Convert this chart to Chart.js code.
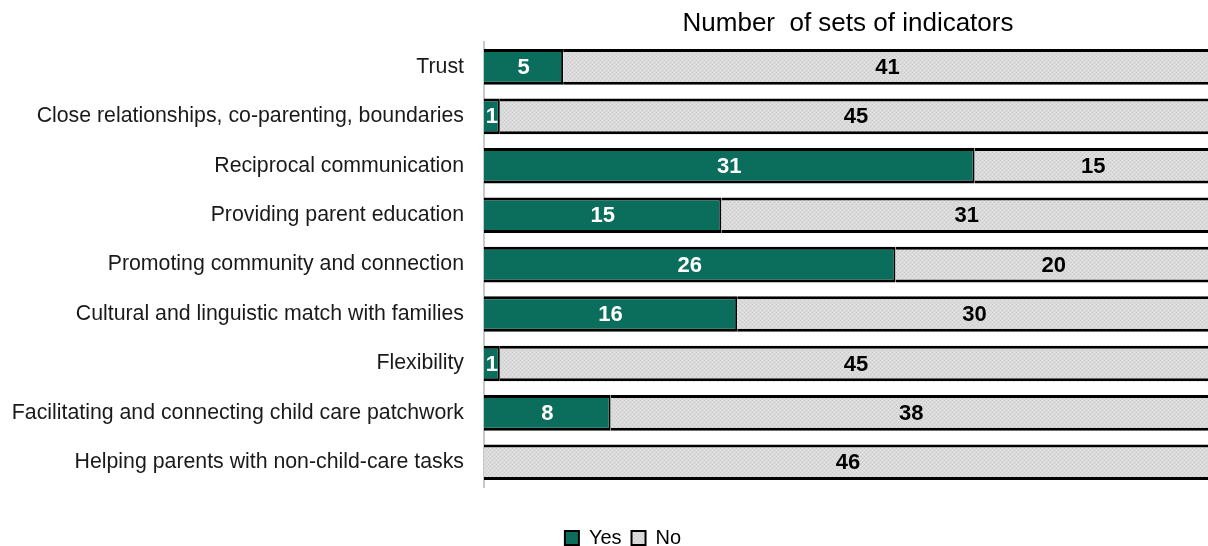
<!DOCTYPE html>
<html lang="en">
<head>
    <meta charset="UTF-8">
    <title>Number of sets of indicators</title>
    <script src="https://cdn.jsdelivr.net/npm/chart.js"></script>
    <style>
        body {
            margin: 0;
            overflow: hidden;
            background: #fff;
        }
    </style>
</head>
<body>
    <!-- canvas a bit bigger than the window; the right/bottom overflow is cut off like in the original -->
    <canvas id="chart" width="1246" height="558"></canvas>
    <script>
        // data
        const categories = [
            'Trust',
            'Close relationships, co-parenting, boundaries',
            'Reciprocal communication',
            'Providing parent education',
            'Promoting community and connection',
            'Cultural and linguistic match with families',
            'Flexibility',
            'Facilitating and connecting child care patchwork',
            'Helping parents with non-child-care tasks'
        ];
        const yesValues = [5, 1, 31, 15, 26, 16, 1, 8, 0];
        const noValues = [41, 45, 15, 31, 20, 30, 45, 38, 46];
        const seriesNames = ['Yes', 'No'];

        const FONT = "'Liberation Sans', Arial, sans-serif";

        // light gray speckled fill for the "No" bars
        function makePattern() {
            const c = document.createElement('canvas');
            c.width = 4;
            c.height = 4;
            const g = c.getContext('2d');
            g.fillStyle = '#dadada';
            g.fillRect(0, 0, 4, 4);
            g.fillStyle = '#cacaca';
            g.fillRect(0, 0, 1, 1);
            g.fillRect(2, 2, 1, 1);
            g.fillStyle = '#e4e4e4';
            g.fillRect(2, 0, 1, 1);
            g.fillRect(0, 2, 1, 1);
            return g.createPattern(c, 'repeat');
        }

        // numbers in the middle of each segment
        const barLabels = {
            id: 'barLabels',
            afterDatasetsDraw(chart) {
                const ctx = chart.ctx;
                ctx.save();
                ctx.font = 'bold 22px ' + FONT;
                ctx.textAlign = 'center';
                ctx.textBaseline = 'middle';
                chart.data.datasets.forEach((ds, i) => {
                    const meta = chart.getDatasetMeta(i);
                    meta.data.forEach((bar, j) => {
                        const v = ds.data[j];
                        if (!v) return;
                        ctx.fillStyle = i === 0 ? '#ffffff' : '#000000';
                        ctx.fillText(String(v), (bar.x + bar.base) / 2, bar.y + 1);
                    });
                });
                ctx.restore();
            }
        };

        // legend sits a little right of the middle in the original
        const legendShift = {
            id: 'legendShift',
            afterLayout(chart) {
                chart.legend.left += 17;
                chart.legend.right += 17;
            }
        };

        const barBorder = { top: 3, bottom: 3, left: 0, right: 2 };

        const ctx = document.getElementById('chart').getContext('2d');
        new Chart(ctx, {
            type: 'bar',
            data: {
                labels: categories,
                datasets: [{
                    label: seriesNames[0],
                    data: yesValues,
                    backgroundColor: '#0b6e5d',
                    borderColor: '#000000',
                    borderWidth: barBorder,
                    barPercentage: 0.72,
                    categoryPercentage: 1
                }, {
                    label: seriesNames[1],
                    data: noValues,
                    backgroundColor: makePattern(),
                    borderColor: '#000000',
                    borderWidth: barBorder,
                    barPercentage: 0.72,
                    categoryPercentage: 1
                }]
            },
            options: {
                indexAxis: 'y',
                responsive: false,
                animation: false,
                layout: { padding: { left: 0, right: 34, top: 0, bottom: 0 } },
                scales: {
                    x: {
                        stacked: true,
                        min: 0,
                        max: 46,
                        grid: { display: false },
                        border: { display: false },
                        ticks: { display: false },
                        afterFit: (scale) => { scale.height = 31; }
                    },
                    y: {
                        stacked: true,
                        grid: { display: false, drawTicks: false },
                        border: { display: true, color: '#c8c8c8', width: 2 },
                        ticks: {
                            color: '#1a1a1a',
                            padding: 20,
                            font: { family: FONT, size: 21.3 }
                        },
                        afterFit: (scale) => { scale.width = 484; }
                    }
                },
                plugins: {
                    title: {
                        display: true,
                        text: 'Number  of sets of indicators',
                        color: '#000',
                        fullSize: false,
                        font: { family: FONT, size: 26, weight: 'normal' },
                        padding: { top: 8, bottom: 3 }
                    },
                    legend: {
                        position: 'bottom',
                        labels: {
                            color: '#000',
                            boxWidth: 14,
                            boxHeight: 14,
                            padding: 10,
                            font: { family: FONT, size: 20 }
                        }
                    },
                    tooltip: { enabled: false }
                }
            },
            plugins: [barLabels, legendShift]
        });
    </script>
</body>
</html>
